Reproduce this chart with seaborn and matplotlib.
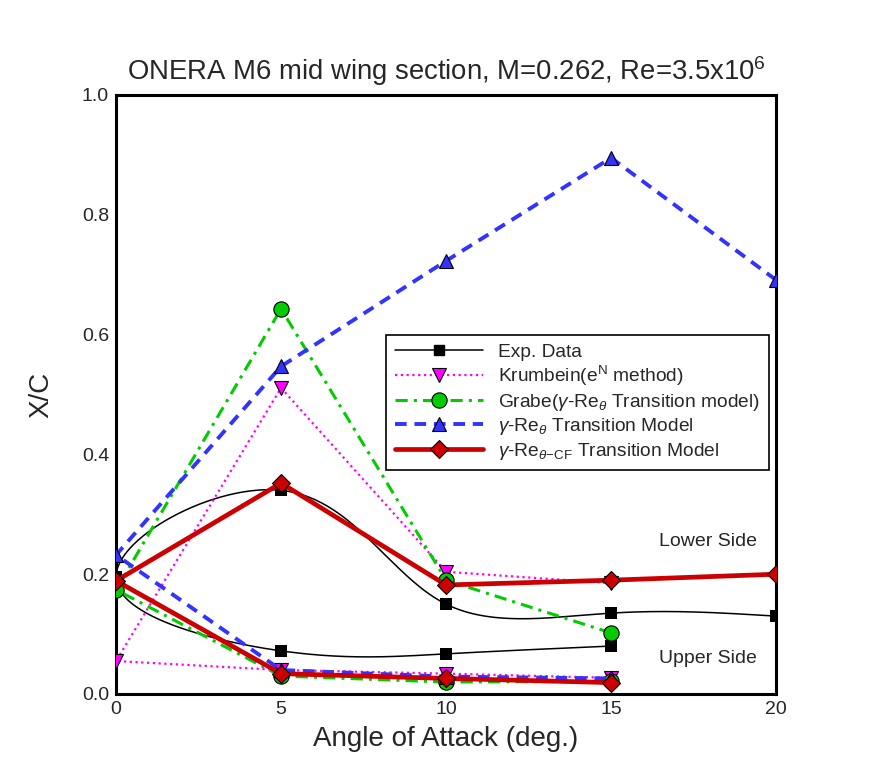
import numpy as np
import pandas as pd
import matplotlib
matplotlib.use("Agg")
import matplotlib.pyplot as plt
from matplotlib.lines import Line2D
import seaborn as sns

# angle of attack, walked lower side (high aoa -> 0) then upper side (0 -> high aoa)
exp_aoa = [20, 15, 10, 5, 0, 5, 10, 15]
exp_xc = [0.130, 0.135, 0.150, 0.340, 0.195, 0.072, 0.067, 0.080]

krum_aoa = [15, 10, 5, 0, 5, 10, 15]
krum_xc = [0.185, 0.204, 0.511, 0.055, 0.040, 0.034, 0.027]

grabe_aoa = [15, 10, 5, 0, 5, 10, 15]
grabe_xc = [0.102, 0.190, 0.643, 0.174, 0.030, 0.020, 0.021]

gre_aoa = [20, 15, 10, 5, 0, 5, 10, 15]
gre_xc = [0.691, 0.895, 0.723, 0.547, 0.232, 0.040, 0.029, 0.026]

cf_aoa = [20, 15, 10, 5, 0, 5, 10, 15]
cf_xc = [0.200, 0.190, 0.182, 0.352, 0.189, 0.034, 0.026, 0.019]

x_ticks = [0, 5, 10, 15, 20]
y_ticks = [0.0, 0.2, 0.4, 0.6, 0.8, 1.0]

sns.set_style("white")
plt.rcParams['font.family'] = ['Liberation Sans', 'DejaVu Sans']
plt.rcParams['mathtext.fontset'] = 'custom'
plt.rcParams['mathtext.rm'] = 'Liberation Sans'
plt.rcParams['mathtext.it'] = 'Liberation Sans:italic'
plt.rcParams['mathtext.sf'] = 'Liberation Sans'


def natural_spline(t, v, tt):
    # natural cubic spline of v(t), evaluated at tt
    n = len(t)
    h = np.diff(t)
    A = np.zeros((n, n))
    r = np.zeros(n)
    A[0, 0] = A[-1, -1] = 1.0
    for i in range(1, n - 1):
        A[i, i - 1] = h[i - 1]
        A[i, i] = 2 * (h[i - 1] + h[i])
        A[i, i + 1] = h[i]
        r[i] = 6 * ((v[i + 1] - v[i]) / h[i] - (v[i] - v[i - 1]) / h[i - 1])
    M = np.linalg.solve(A, r)
    k = np.clip(np.searchsorted(t, tt) - 1, 0, n - 2)
    hk = h[k]
    a = (t[k + 1] - tt) / hk
    b = (tt - t[k]) / hk
    return (a * v[k] + b * v[k + 1]
            + ((a ** 3 - a) * M[k] + (b ** 3 - b) * M[k + 1]) * hk ** 2 / 6)


def smooth_path(xs, ys, sx=33.0, sy=599.0):
    # parametric spline through the points, chord length in screen-like units
    px = np.asarray(xs, float) * sx
    py = np.asarray(ys, float) * sy
    t = np.concatenate([[0], np.cumsum(np.hypot(np.diff(px), np.diff(py)))])
    tt = np.linspace(0, t[-1], 600)
    return natural_spline(t, px, tt) / sx, natural_spline(t, py, tt) / sy


fig, ax = plt.subplots(figsize=(8.79, 7.81), dpi=100)
fig.subplots_adjust(left=0.132, right=0.883, bottom=0.1114, top=0.8784)

# experiment: smooth curve + square markers
cx, cy = smooth_path(exp_aoa, exp_xc)
ax.plot(cx, cy, color='black', lw=1.1, zorder=2)
sns.scatterplot(x=exp_aoa, y=exp_xc, ax=ax, marker='s', s=70, color='black',
                edgecolor='black', linewidth=0, zorder=3)

sns.lineplot(x=krum_aoa, y=krum_xc, ax=ax, sort=False, estimator=None,
             color='#ff00ff', lw=1.6, ls=(0, (1, 1.6)), marker='v', ms=10,
             mfc='#ff00ff', mec='black', mew=0.8, zorder=4)
sns.lineplot(x=grabe_aoa, y=grabe_xc, ax=ax, sort=False, estimator=None,
             color='#00cc00', lw=2.2, ls=(0, (4, 2, 1, 2)), marker='o', ms=11,
             mfc='#00cc00', mec='black', mew=0.8, zorder=5)
sns.lineplot(x=gre_aoa, y=gre_xc, ax=ax, sort=False, estimator=None,
             color='#3333ff', lw=2.8, ls=(0, (3, 2)), marker='^', ms=10,
             mfc='#3333ff', mec='black', mew=0.8, zorder=6)
sns.lineplot(x=cf_aoa, y=cf_xc, ax=ax, sort=False, estimator=None,
             color='#cc0000', lw=3.4, ls='-', marker='D', ms=9.5,
             mfc='#cc0000', mec='black', mew=0.8, zorder=7)

handles = [
    Line2D([], [], color='black', lw=1.1, marker='s', ms=7, mfc='black', mec='black'),
    Line2D([], [], color='#ff00ff', lw=1.6, ls=(0, (1, 1.6)), marker='v', ms=10,
           mfc='#ff00ff', mec='black', mew=0.8),
    Line2D([], [], color='#00cc00', lw=2.2, ls=(0, (4, 2, 1, 2)), marker='o', ms=11,
           mfc='#00cc00', mec='black', mew=0.8),
    Line2D([], [], color='#3333ff', lw=2.8, ls=(0, (3, 2)), marker='^', ms=10,
           mfc='#3333ff', mec='black', mew=0.8),
    Line2D([], [], color='#cc0000', lw=3.4, marker='D', ms=9.5,
           mfc='#cc0000', mec='black', mew=0.8),
]
labels = [
    'Exp. Data',
    'Krumbein(e$^{\\mathregular{N}}$ method)',
    'Grabe($\\gamma$-Re$_{\\theta}$ Transition model)',
    '$\\gamma$-Re$_{\\theta}$ Transition Model',
    '$\\gamma$-Re$_{\\theta\\mathregular{-CF}}$ Transition Model',
]
leg = ax.legend(handles, labels, loc='upper left', bbox_to_anchor=(0.409, 0.600),
                fontsize=13.8, frameon=True, fancybox=False, framealpha=1,
                edgecolor='black', handlelength=4.6, handletextpad=0.8,
                labelspacing=0.18, borderpad=0.45, borderaxespad=0)
leg.get_frame().set_linewidth(1.2)

ax.text(16.45, 0.247, 'Lower Side', fontsize=14)
ax.text(16.45, 0.052, 'Upper Side', fontsize=14)

ax.set_xlim(0, 20)
ax.set_ylim(0, 1)
ax.set_xticks(x_ticks)
ax.set_yticks(y_ticks)
ax.set_yticklabels([f'{v:.1f}' for v in y_ticks])
ax.tick_params(direction='in', length=7, width=2, labelsize=14,
               top=False, right=False, pad=5)
for sp in ax.spines.values():
    sp.set_linewidth(2.2)
    sp.set_color('black')

ax.set_title('ONERA M6 mid wing section, M=0.262, Re=3.5x10$^{\\mathregular{6}}$',
             fontsize=19.8, pad=11)
ax.set_xlabel('Angle of Attack (deg.)', fontsize=20, labelpad=6)
ax.set_ylabel('X/C', fontsize=20, labelpad=20)

plt.savefig('out.png', dpi=100)
